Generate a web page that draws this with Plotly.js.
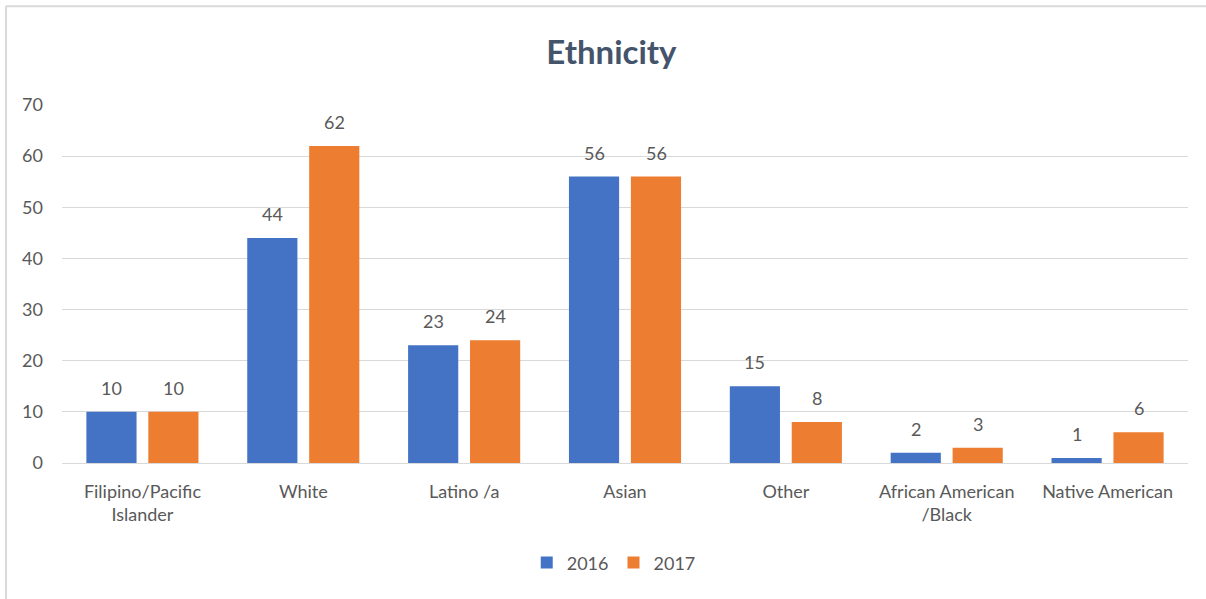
<!DOCTYPE html>
<html>
<head>
<meta charset="utf-8">
<script src="https://cdn.plot.ly/plotly-3.0.1.min.js"></script>
<style>
html,body{margin:0;padding:0;background:#fff;}
#chart{width:1206px;height:599px;}
</style>
</head>
<body>
<div id="chart"></div>
<script>
const categories = ["Filipino/Pacific<br>Islander", "White", "Latino /a", "Asian", "Other", "African American<br>/Black", "Native American"];
const series2016 = [10, 44, 23, 56, 15, 2, 1];
const series2017 = [10, 62, 24, 56, 8, 3, 6];
const seriesNames = ["2016", "2017"];
const yTicks = [0, 10, 20, 30, 40, 50, 60, 70];

const colors = ["#4472C4", "#ED7D31"];
const font = "Lato, 'Open Sans', sans-serif";
const labelColor = "#595959";

const traces = [series2016, series2017].map((vals, i) => ({
  type: "bar",
  name: seriesNames[i],
  x: categories,
  y: vals,
  marker: {color: colors[i]},
  hoverinfo: "skip"
}));

const annotations = [];
[series2016, series2017].forEach((vals, i) => {
  vals.forEach((v, j) => {
    annotations.push({
      x: categories[j], y: v, xref: "x", yref: "y",
      text: String(v), showarrow: false,
      xshift: i === 0 ? -31 : 31, yshift: 11, yanchor: "bottom",
      font: {family: font, size: 18, color: labelColor}
    });
  });
});

const layout = {
  width: 1206, height: 599,
  margin: {l: 62, r: 18, t: 105, b: 136},
  paper_bgcolor: "#ffffff", plot_bgcolor: "#ffffff",
  title: {text: "<b>Ethnicity</b>", x: 0.507, xanchor: "center", y: 0.912, yanchor: "middle",
          font: {family: font, size: 33, color: "#44546A"}},
  barmode: "group",
  bargap: 0.23,
  bargroupgap: 0.19,
  xaxis: {
    showgrid: false, showline: true, linecolor: "#D9D9D9", linewidth: 1,
    ticks: "", tickfont: {family: font, size: 18, color: labelColor},
    ticklabelstandoff: 12
  },
  yaxis: {
    range: [0, 70], tickvals: yTicks, ticktext: yTicks.map(String),
    showgrid: true, gridcolor: "#D9D9D9", gridwidth: 1,
    zeroline: false, showline: false, ticks: "",
    tickfont: {family: font, size: 18, color: labelColor},
    ticklabelstandoff: 18
  },
  showlegend: true,
  legend: {orientation: "h", x: 0.49, xanchor: "center", y: -0.279, yanchor: "middle",
           font: {family: font, size: 18, color: labelColor}, itemwidth: 30, traceorder: "normal"},
  annotations: annotations,
  shapes: [
    {type: "line", xref: "paper", yref: "paper", x0: -0.0497, x1: 1.1, y0: 1.276, y1: 1.276,
     line: {color: "#D9D9D9", width: 2}},
    {type: "line", xref: "paper", yref: "paper", x0: -0.0497, x1: -0.0497, y0: 1.276, y1: -0.4,
     line: {color: "#D9D9D9", width: 2}}
  ]
};

Plotly.newPlot("chart", traces, layout, {staticPlot: true, displayModeBar: false});
</script>
</body>
</html>
